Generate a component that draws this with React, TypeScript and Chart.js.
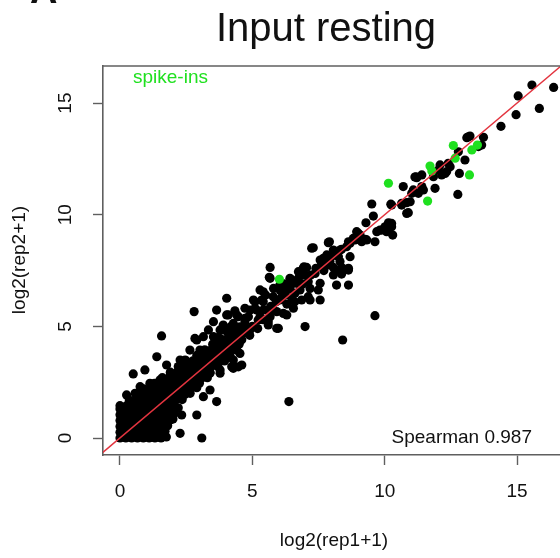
import React, { useEffect, useRef } from "react";
import { Chart, registerables } from "chart.js";

Chart.register(...registerables);

type Pt = [number, number];

const X_TICKS = [0, 5, 10, 15];
const Y_TICKS = [0, 5, 10, 15];
const X_MIN = -0.642;
const X_MAX = 16.62;
const Y_MIN = -0.761;
const Y_MAX = 16.66;

const TITLE = "Input resting";
const X_LABEL = "log2(rep1+1)";
const Y_LABEL = "log2(rep2+1)";
const SPEARMAN_LABEL = "Spearman 0.987";
const SPIKE_LABEL = "spike-ins";
const PANEL_LABEL = "A";

// dense low-expression block (rep1 / rep2 near zero)
const blobPoints: Pt[] = [
  [0, 0], [0.22, 0], [0.44, 0], [0.66, 0], [0.88, 0], [1.1, 0], [1.32, 0], [1.55, 0], [1.75, 0.05],
  [0, 0.26], [0.2, 0.26], [0.45, 0.26], [0.7, 0.26], [0.9, 0.26], [1.1, 0.26], [1.3, 0.26], [1.5, 0.26], [1.7, 0.3],
  [0, 0.52], [0.22, 0.52], [0.44, 0.52], [0.66, 0.52], [0.88, 0.52], [1.1, 0.52], [1.32, 0.52], [1.55, 0.52], [1.8, 0.55],
  [0, 0.78], [0.22, 0.78], [0.44, 0.78], [0.66, 0.78], [0.88, 0.78], [1.1, 0.78], [1.32, 0.78], [1.55, 0.78], [1.8, 0.78], [2.0, 0.85],
  [0, 1.04], [0.22, 1.04], [0.44, 1.04], [0.66, 1.04], [0.88, 1.04], [1.1, 1.04], [1.32, 1.04], [1.55, 1.04], [1.8, 1.04], [2.05, 1.1],
  [0, 1.3], [0.2, 1.3], [0.45, 1.3], [0.7, 1.3], [0.95, 1.3], [1.2, 1.3], [1.45, 1.3], [1.7, 1.3], [1.95, 1.3], [2.2, 1.35],
  [0, 1.45], [0.25, 1.45], [0.5, 1.45], [0.75, 1.45], [1.0, 1.45], [1.25, 1.45], [1.5, 1.45], [1.75, 1.45], [2.0, 1.5],
  [0.1, 0.13], [0.33, 0.13], [0.55, 0.13], [0.77, 0.13], [0.99, 0.13], [1.21, 0.13], [1.43, 0.13],
  [0.1, 0.65], [0.33, 0.65], [0.55, 0.65], [0.77, 0.65], [0.99, 0.65], [1.21, 0.65], [1.43, 0.65], [1.66, 0.65],
  [0.1, 1.17], [0.33, 1.17], [0.55, 1.17], [0.77, 1.17], [0.99, 1.17], [1.21, 1.17], [1.43, 1.17], [1.66, 1.17], [1.9, 1.2],
];

// diagonal band, low-to-mid expression
const bandPoints: Pt[] = [
  [0.35, 1.7], [0.6, 1.7], [0.85, 1.7], [1.1, 1.7], [1.35, 1.7], [1.6, 1.7], [1.85, 1.7], [2.1, 1.7], [2.35, 1.72],
  [0.7, 1.95], [0.95, 1.95], [1.2, 1.95], [1.45, 1.95], [1.7, 1.95], [1.95, 1.95], [2.2, 1.95], [2.45, 1.95], [2.65, 2.0],
  [0.9, 2.2], [1.15, 2.2], [1.4, 2.2], [1.65, 2.2], [1.9, 2.2], [2.15, 2.2], [2.4, 2.2], [2.65, 2.2], [2.9, 2.25],
  [1.3, 2.45], [1.55, 2.45], [1.8, 2.45], [2.05, 2.45], [2.3, 2.45], [2.55, 2.45], [2.8, 2.45], [3.0, 2.45],
  [1.6, 2.7], [1.85, 2.7], [2.1, 2.7], [2.35, 2.7], [2.6, 2.7], [2.85, 2.7], [3.1, 2.7], [3.3, 2.7],
  [1.9, 2.95], [2.15, 2.95], [2.4, 2.95], [2.65, 2.95], [2.9, 2.95], [3.15, 2.95], [3.4, 2.95],
  [2.2, 3.2], [2.45, 3.2], [2.7, 3.2], [2.95, 3.2], [3.2, 3.2], [3.45, 3.2], [3.7, 3.2],
  [2.5, 3.45], [2.75, 3.45], [3.0, 3.45], [3.25, 3.45], [3.5, 3.45], [3.75, 3.45], [3.95, 3.45],
  [2.9, 3.7], [3.15, 3.7], [3.4, 3.7], [3.65, 3.7], [3.9, 3.7], [4.15, 3.7],
  [3.2, 3.95], [3.45, 3.95], [3.7, 3.95], [3.95, 3.95], [4.2, 3.95], [4.4, 3.95],
  [3.5, 4.2], [3.75, 4.2], [4.0, 4.2], [4.25, 4.2], [4.5, 4.2],
  [3.8, 4.45], [4.05, 4.45], [4.3, 4.45], [4.55, 4.45],
  [4.1, 4.7], [4.35, 4.7], [4.6, 4.7], [4.85, 4.7],
  [0.25, 1.93], [0.57, 2.0], [0.76, 2.3], [1.13, 2.45], [1.51, 2.6], [1.89, 2.75], [2.2, 2.9], [2.64, 3.19],
  [0.5, 2.87], [0.94, 3.05], [1.39, 3.64], [1.76, 3.27], [2.27, 3.49], [2.46, 3.34],
  [1.89, 0.81], [1.64, 0.36], [2.33, 1.03], [2.9, 1.03], [3.15, 1.85], [3.4, 2.15], [3.02, 2.6], [3.78, 2.9],
  [3.7, 4.5], [4.0, 4.8], [4.2, 5.0], [4.0, 4.1], [3.8, 3.7], [4.6, 4.4], [4.9, 4.6], [5.0, 5.0], [5.2, 4.9],
];

// mid expression (x about 2.4 - 7.6)
const midPoints: Pt[] = [
  [2.8, 5.66], [2.83, 4.46], [2.64, 3.94], [2.46, 3.49], [2.77, 3.34], [2.39, 2.9], [2.71, 2.75], [3.02, 3.94],
  [3.15, 4.54], [3.34, 4.84], [3.53, 5.21], [3.65, 5.73], [4.03, 5.51], [4.34, 5.7], [4.72, 5.36], [3.53, 4.54],
  [3.78, 4.84], [3.9, 5.06], [4.03, 6.26], [4.09, 5.51], [4.28, 5.13], [4.47, 5.43], [4.72, 5.21], [3.9, 4.31],
  [4.28, 4.46], [4.66, 4.69], [4.91, 4.84], [4.47, 4.84], [3.53, 3.94], [3.15, 3.64], [3.53, 3.34], [3.9, 3.49],
  [4.16, 3.64], [4.41, 3.94], [4.6, 3.27], [4.28, 3.12], [3.78, 3.05], [3.4, 2.9], [3.02, 3.05], [4.28, 4.24],
  [4.53, 3.79], [4.28, 3.49], [4.47, 3.19], [4.22, 3.19], [4.28, 4.76], [4.53, 4.98], [4.72, 4.98], [4.41, 5.51],
  [4.85, 5.43], [4.72, 5.81], [5.1, 5.81], [5.04, 6.18], [5.35, 6.18], [5.41, 6.55], [5.79, 6.33], [5.67, 5.43],
  [5.41, 5.73], [5.6, 5.06], [5.98, 4.91], [5.79, 5.73], [6.17, 5.58], [5.22, 5.28], [5.29, 5.43], [5.54, 5.73],
  [4.91, 5.73], [5.16, 5.73], [5.1, 6.1], [5.41, 6.1], [5.29, 6.63], [5.6, 5.21], [5.92, 4.91], [5.92, 5.66],
  [6.3, 5.51], [6.55, 5.81], [6.04, 6.18], [6.49, 6.26], [6.23, 6.4], [6.04, 6.63], [6.42, 6.7], [6.61, 6.48],
  [6.8, 6.63], [6.61, 6.93], [6.3, 6.63], [6.86, 6.18], [7.18, 6.18], [7.56, 6.18], [7.18, 6.7], [7.49, 6.63],
  [7.11, 6.33], [7.11, 7.0], [6.42, 7.15], [6.74, 7.45], [6.95, 7.67], [5.67, 7.64], [5.64, 7.2], [5.67, 7.15],
  [6.04, 6.85], [6.36, 6.85], [6.49, 7.08], [6.74, 7.15], [6.92, 7.6], [7.56, 6.93],
  [5.4, 5.3], [5.7, 5.9], [5.9, 6.1], [6.1, 6.3], [6.3, 6.0], [6.6, 6.1], [6.9, 6.9], [7.2, 7.3], [7.4, 7.6],
  [7.7, 7.5], [7.0, 7.3], [5.5, 6.4], [5.8, 6.7], [6.2, 6.9],
];

// upper-mid expression (x about 7 - 11)
const upperPoints: Pt[] = [
  [7.05, 7.64], [7.37, 7.37], [8.06, 7.3], [8.37, 7.34], [8.63, 7.6], [8.37, 7.64], [8.06, 7.64], [7.87, 7.75],
  [7.62, 7.82], [7.68, 8.05], [8.0, 8.15], [8.25, 8.12], [8.69, 8.12], [7.3, 8.52], [7.91, 8.79], [7.24, 8.5],
  [7.87, 8.75], [8.31, 8.42], [8.06, 8.2], [7.81, 8.2], [7.56, 7.97], [7.93, 7.9], [8.31, 7.9], [8.63, 7.52],
  [8.18, 7.52], [8.63, 6.85], [8.18, 6.85], [8.06, 8.42], [8.37, 8.45], [8.56, 8.57], [8.63, 8.79], [8.81, 8.94],
  [8.94, 9.24], [9.07, 9.09], [9.26, 8.9], [9.63, 8.79], [9.32, 8.87], [9.0, 9.17], [8.88, 8.87], [8.69, 8.72],
  [9.13, 8.79], [9.29, 9.64], [9.57, 9.94], [9.51, 10.48], [9.7, 9.24], [10.07, 9.39], [10.26, 9.61], [10.3, 9.09],
  [10.07, 9.24], [9.82, 9.31], [10.26, 9.46], [10.14, 9.64], [10.23, 10.47], [10.64, 10.43], [10.83, 10.54],
  [10.89, 10.09], [10.83, 10.06], [10.26, 10.43], [10.64, 10.51], [10.96, 10.58], [11.02, 10.96], [9.89, 9.31],
  [10.01, 9.46], [10.2, 9.61],
];

// high expression (x about 10.5 - 16.4)
const highPoints: Pt[] = [
  [10.7, 11.26], [11.14, 11.69], [11.4, 11.78], [11.08, 11.11], [11.46, 11.11], [11.4, 11.26], [11.27, 10.96],
  [11.9, 11.18], [12.76, 10.91], [11.18, 11.7], [11.21, 11.66], [12.09, 12.23], [12.03, 12.0], [12.34, 11.93],
  [12.47, 12.15], [12.15, 11.78], [11.84, 11.7], [12.28, 11.85], [12.4, 12.3], [12.78, 12.82], [13.03, 12.45],
  [12.82, 11.85], [13.16, 13.49], [13.22, 13.52], [13.73, 13.47], [13.66, 13.12], [13.54, 13.05], [13.1, 13.45],
  [14.39, 13.96], [14.96, 14.48], [15.84, 14.76], [15.04, 15.32], [15.56, 15.81], [16.38, 15.7],
];

// scattered outliers
const outlierPoints: Pt[] = [
  [3.09, 0], [2.27, 0.21], [3.65, 1.63], [6.38, 1.63], [8.41, 4.39], [6.99, 4.99], [9.63, 5.48], [1.57, 4.57],
  [2.9, 4.39],
];

// ERCC spike-ins (green)
const spikeInPoints: Pt[] = [
  [6.02, 7.11], [10.14, 11.41], [11.62, 10.61], [11.71, 12.18], [11.78, 11.96], [12.59, 13.1], [13.5, 13.12],
  [13.29, 12.9], [12.66, 12.53], [13.2, 11.78],
];

const identityLine: Pt[] = [[-1, -1], [18, 18]];

const FONT = "'Liberation Sans', Arial, Helvetica, sans-serif";
const FRAME = "#5f5f5f";
const TEXT = "#111111";
const GREEN = "#1fe01f";
const RED = "#e3343f";
const POINT_R = 4.6;

const toXY = (pts: Pt[]) => pts.map(([x, y]) => ({ x, y }));

const decorPlugin = {
  id: "decor",
  afterDraw(chart: any) {
    const { ctx, chartArea, scales } = chart;
    const xs = scales.x;
    const ys = scales.y;
    ctx.save();
    // top frame edge
    ctx.strokeStyle = FRAME;
    ctx.lineWidth = 1.6;
    ctx.beginPath();
    ctx.moveTo(chartArea.left, chartArea.top);
    ctx.lineTo(chartArea.right, chartArea.top);
    ctx.stroke();

    ctx.fillStyle = TEXT;
    ctx.textAlign = "center";
    ctx.textBaseline = "middle";
    ctx.font = `19px ${FONT}`;
    X_TICKS.forEach((v) => ctx.fillText(String(v), xs.getPixelForValue(v), 492));
    Y_TICKS.forEach((v) => {
      ctx.save();
      ctx.translate(66, ys.getPixelForValue(v));
      ctx.rotate(-Math.PI / 2);
      ctx.fillText(String(v), 0, 0);
      ctx.restore();
    });

    // axis titles
    ctx.fillText(X_LABEL, 334, 541);
    ctx.save();
    ctx.translate(20, 260);
    ctx.rotate(-Math.PI / 2);
    ctx.fillText(Y_LABEL, 0, 0);
    ctx.restore();

    // annotations
    ctx.textAlign = "right";
    ctx.fillText(SPEARMAN_LABEL, 532, 438);
    ctx.textAlign = "left";
    ctx.fillStyle = GREEN;
    ctx.fillText(SPIKE_LABEL, 133, 78);

    // main title
    ctx.fillStyle = TEXT;
    ctx.textAlign = "center";
    ctx.textBaseline = "alphabetic";
    ctx.font = `40px ${FONT}`;
    ctx.fillText(TITLE, 326, 41);

    // panel letter (cut off at the top)
    ctx.textAlign = "left";
    ctx.font = `bold 38px ${FONT}`;
    ctx.fillText(PANEL_LABEL, 30, 3);
    ctx.restore();
  },
};

export default function App() {
  const ref = useRef<HTMLCanvasElement | null>(null);

  useEffect(() => {
    if (!ref.current) return;
    const black = [...blobPoints, ...bandPoints, ...midPoints, ...upperPoints, ...highPoints, ...outlierPoints];
    const chart = new Chart(ref.current, {
      type: "scatter",
      data: {
        datasets: [
          {
            type: "line",
            data: toXY(identityLine),
            borderColor: RED,
            borderWidth: 1.5,
            pointRadius: 0,
            showLine: true,
            fill: false,
          } as any,
          {
            data: toXY(spikeInPoints),
            pointRadius: POINT_R,
            pointBackgroundColor: GREEN,
            pointBorderWidth: 0,
            backgroundColor: GREEN,
          },
          {
            data: toXY(black),
            pointRadius: POINT_R,
            pointBackgroundColor: "#000000",
            pointBorderWidth: 0,
            backgroundColor: "#000000",
          },
        ],
      },
      options: {
        responsive: false,
        animation: false,
        devicePixelRatio: 1,
        layout: { autoPadding: false, padding: { top: 66, left: 0, right: 0, bottom: 0 } },
        plugins: {
          legend: { display: false },
          tooltip: { enabled: false },
          title: { display: false },
        },
        scales: {
          x: {
            type: "linear",
            position: "bottom",
            min: X_MIN,
            max: X_MAX,
            afterBuildTicks: (s: any) => {
              s.ticks = X_TICKS.map((value) => ({ value }));
            },
            afterFit: (s: any) => {
              s.height = 103;
            },
            ticks: { display: false },
            grid: {
              drawOnChartArea: false,
              drawTicks: true,
              tickLength: 10,
              tickColor: FRAME,
              tickWidth: 1.4,
              color: FRAME,
            },
            border: { display: true, color: FRAME, width: 1.6 },
          },
          y: {
            type: "linear",
            position: "left",
            min: Y_MIN,
            max: Y_MAX,
            afterBuildTicks: (s: any) => {
              s.ticks = Y_TICKS.map((value) => ({ value }));
            },
            afterFit: (s: any) => {
              s.width = 103;
            },
            ticks: { display: false },
            grid: {
              drawOnChartArea: false,
              drawTicks: true,
              tickLength: 10,
              tickColor: FRAME,
              tickWidth: 1.4,
              color: FRAME,
            },
            border: { display: true, color: FRAME, width: 1.6 },
          },
        },
      },
      plugins: [decorPlugin],
    });
    return () => chart.destroy();
  }, []);

  return (
    <div style={{ position: "fixed", left: 0, top: 0, width: 560, height: 558, background: "#ffffff" }}>
      <canvas ref={ref} width={560} height={558} style={{ display: "block", width: 560, height: 558 }} />
    </div>
  );
}
